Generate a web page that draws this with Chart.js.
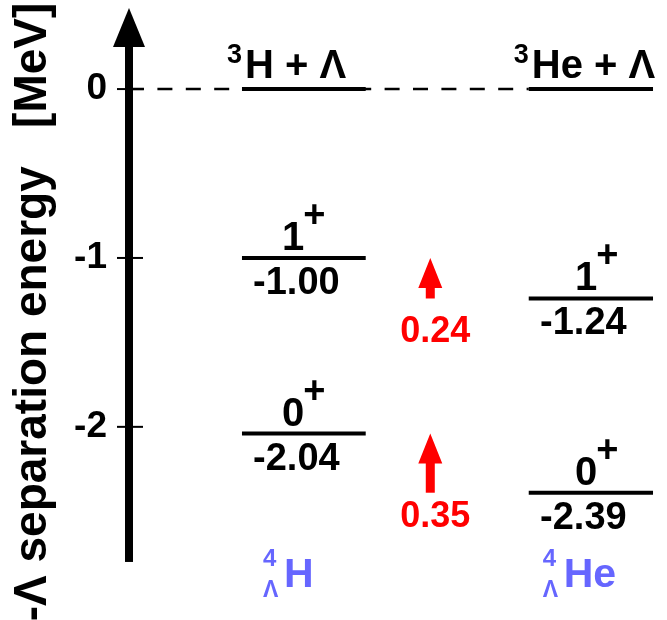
<!DOCTYPE html>
<html>
<head>
<meta charset="utf-8">
<script src="https://cdn.jsdelivr.net/npm/chart.js@4.4.1/dist/chart.umd.min.js"></script>
<style>
  body { margin: 0; background: #fff; }
</style>
</head>
<body>
<canvas id="levels" width="667" height="620"></canvas>
<script>
// 4ΛH / 4ΛHe level scheme, energies in MeV
const nuclei = ["H", "He"];
const massNumber = "4";
const coreMass = "3";
const thresholdE = [0, 0];
const spins = ["1", "0"];
const levelsH = [-1.00, -2.04];
const levelsHe = [-1.24, -2.39];
const shifts = [0.24, 0.35];
const yTicks = [0, -1, -2];

const FONT = '"Liberation Sans", Arial, sans-serif';
const blue = "rgb(102,102,255)";
const red = "#ff0000";
// layout (x in 0..100 units, axis at 0)
const cols = [{ from: 21, to: 44 }, { from: 74.3, to: 97.4 }];
const arrowX = 56;
const axisBottom = -2.8;
const shiftLabelDy = [44, 34];
const spinDx = [1, 7];
const nucleusDx = [21, 14];

const levels = [levelsH, levelsHe];

function seg(c, e) {
  return {
    data: [{ x: cols[c].from, y: e }, { x: cols[c].to, y: e }],
    showLine: true, borderColor: "#000", borderWidth: 4, pointRadius: 0
  };
}

const datasets = [];
levels.forEach((lv, c) => {
  datasets.push(seg(c, thresholdE[c]));
  lv.forEach(e => datasets.push(seg(c, e)));
});
// dashed threshold line from the axis to the 3He + Λ level
datasets.push({
  data: [{ x: 0, y: thresholdE[0] }, { x: cols[1].from, y: thresholdE[1] }],
  showLine: true, borderColor: "#000", borderWidth: 2.5,
  borderDash: [15, 13.4], pointRadius: 0
});

function put(ctx, s, x, y, size, color, align) {
  ctx.font = "bold " + size + "px " + FONT;
  ctx.fillStyle = color;
  ctx.textAlign = align || "left";
  ctx.textBaseline = "alphabetic";
  ctx.fillText(s, x, y);
  return ctx.measureText(s).width;
}

const decor = {
  id: "decor",
  afterDatasetsDraw(chart) {
    const { ctx, chartArea, scales: { x, y } } = chart;
    const ax = x.getPixelForValue(0);
    const headBase = chartArea.top + 39;
    ctx.save();

    // energy axis with arrow head
    ctx.fillStyle = "#000";
    ctx.fillRect(ax - 4, headBase, 8, y.getPixelForValue(axisBottom) - headBase);
    ctx.beginPath();
    ctx.moveTo(ax, chartArea.top);
    ctx.lineTo(ax - 16, headBase);
    ctx.lineTo(ax + 16, headBase);
    ctx.closePath();
    ctx.fill();
    ctx.lineWidth = 2;
    ctx.strokeStyle = "#000";
    yTicks.forEach(v => {
      const py = y.getPixelForValue(v);
      ctx.beginPath();
      ctx.moveTo(ax - 12, py);
      ctx.lineTo(ax + 14, py);
      ctx.stroke();
    });

    levels.forEach((lv, c) => {
      const x0 = x.getPixelForValue(cols[c].from);
      const x1 = x.getPixelForValue(cols[c].to);
      const xm = (x0 + x1) / 2;

      // threshold label
      const ty = y.getPixelForValue(thresholdE[c]) - 11;
      const w = put(ctx, coreMass, x0 - 15, ty - 15, 27, "#000");
      put(ctx, nuclei[c] + " + Λ", x0 - 15 + w + 3, ty, 40, "#000");

      lv.forEach((e, i) => {
        const py = y.getPixelForValue(e);
        ctx.font = "bold 40px " + FONT;
        const ws = ctx.measureText(spins[i]).width;
        const wp = ctx.measureText("+").width;
        const sx = xm + spinDx[c] - (ws + wp) / 2;
        put(ctx, spins[i], sx, py - 8, 40, "#000");
        put(ctx, "+", sx + ws - 1, py - 31, 38, "#000");
        put(ctx, e.toFixed(2), xm - 7.5, py + 36, 38, "#000", "center");
      });

      // nucleus name
      const bx = x0 + nucleusDx[c];
      put(ctx, massNumber, bx, 566, 24, blue);
      put(ctx, "Λ", bx, 597, 23, blue);
      put(ctx, nuclei[c] + "", bx + 21, 587, 41, blue);
    });

    // charge symmetry breaking arrows
    const px = x.getPixelForValue(arrowX);
    shifts.forEach((d, i) => {
      const yb = y.getPixelForValue(levelsHe[i]);
      const yt = y.getPixelForValue(levelsHe[i] + d);
      ctx.fillStyle = red;
      ctx.fillRect(px - 4.5, yt + 28, 9, yb - yt - 28);
      ctx.beginPath();
      ctx.moveTo(px, yt);
      ctx.lineTo(px - 12, yt + 30);
      ctx.lineTo(px + 12, yt + 30);
      ctx.closePath();
      ctx.fill();
      put(ctx, d.toFixed(2), px + 5, yb + shiftLabelDy[i], 36, red, "center");
    });
    ctx.restore();
  }
};

new Chart(document.getElementById("levels"), {
  type: "scatter",
  data: { datasets },
  options: {
    responsive: false,
    animation: false,
    layout: { padding: { top: 8, bottom: 4, left: 0, right: 0 } },
    plugins: { legend: { display: false }, tooltip: { enabled: false } },
    scales: {
      x: { type: "linear", display: false, min: 0, max: 100 },
      y: {
        min: -3.12,
        max: 0.48,
        afterBuildTicks: s => { s.ticks = yTicks.map(v => ({ value: v })); },
        afterFit: s => { s.width = 129; s.paddingTop = 0; s.paddingBottom = 0; },
        grid: { display: false, drawTicks: false },
        border: { display: false },
        ticks: {
          color: "#000",
          padding: 22,
          font: { family: FONT, size: 37, weight: "bold" },
          callback: v => String(v)
        },
        title: {
          display: true,
          text: "-Λ separation energy   [MeV]",
          color: "#000",
          padding: { top: 6, bottom: 0 },
          font: { family: FONT, size: 46, weight: "bold" }
        }
      }
    }
  },
  plugins: [decor]
});
</script>
</body>
</html>
